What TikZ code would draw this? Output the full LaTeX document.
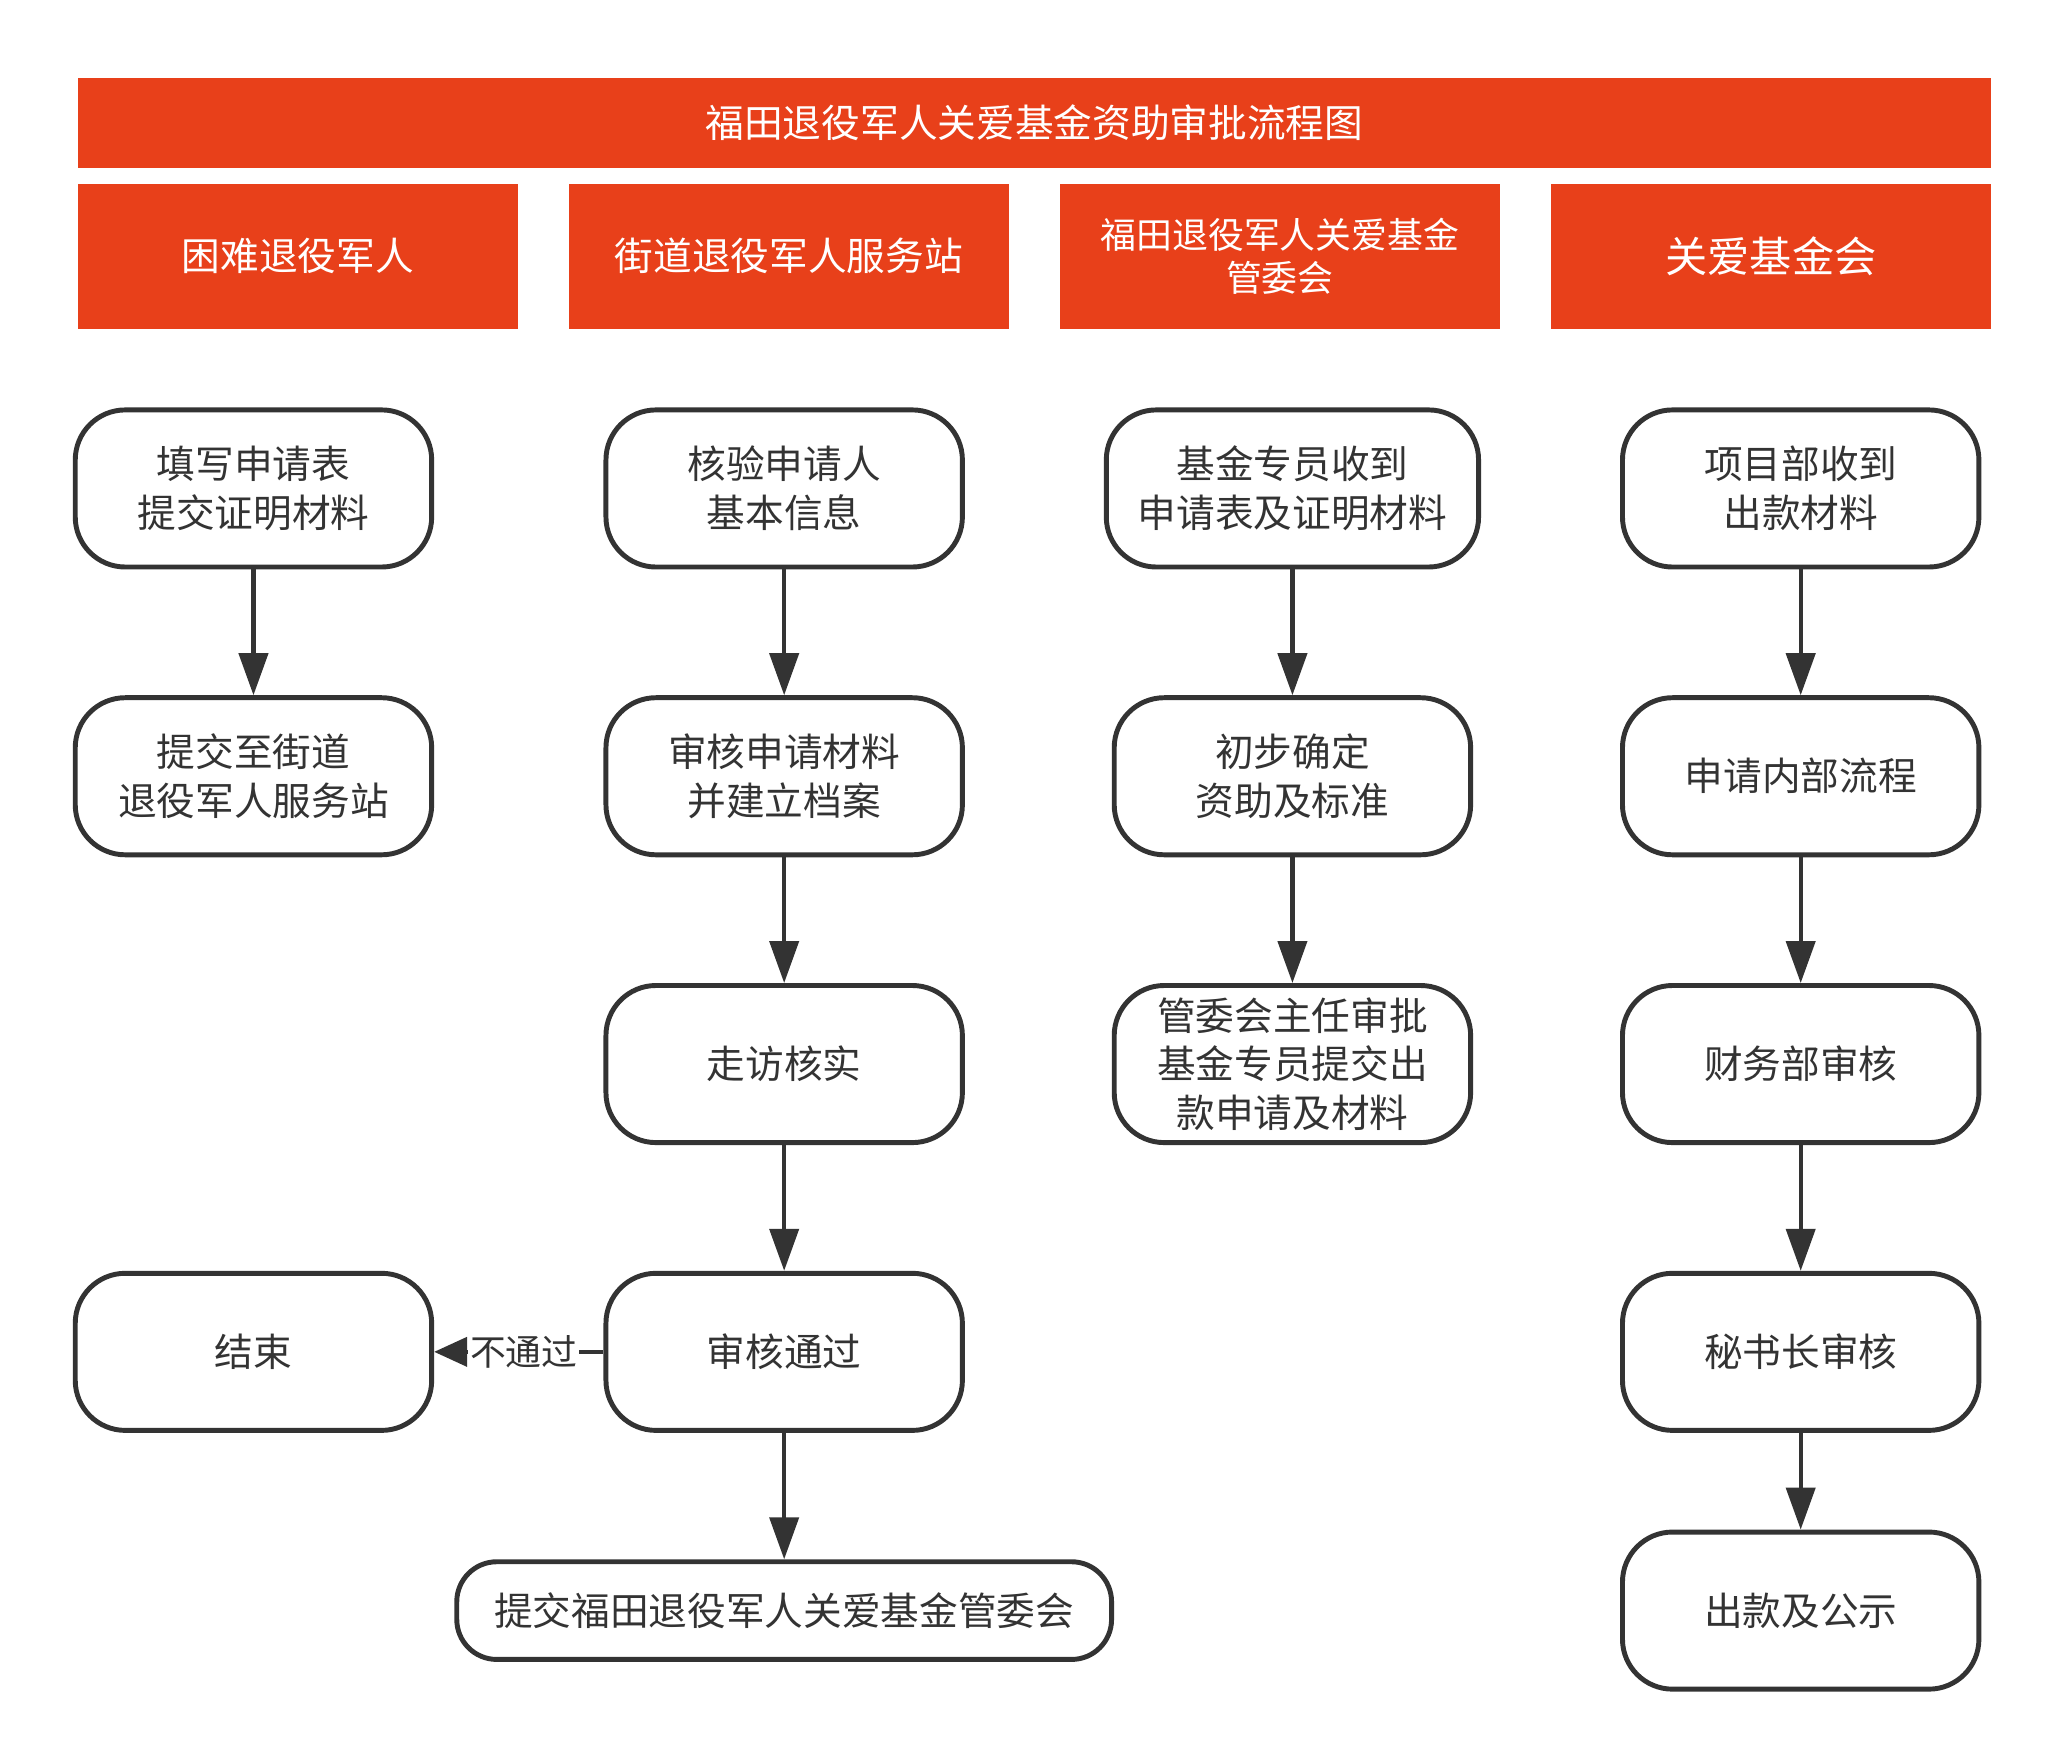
\documentclass[tikz,border=0pt]{standalone}
\usepackage{fontspec}
\setmainfont{Noto Sans CJK SC}
\usetikzlibrary{arrows.meta}
\newcommand{\pxu}{0.0132cm}
\definecolor{barred}{HTML}{E8401A}
\definecolor{darkline}{HTML}{333333}
\begin{document}
\begin{tikzpicture}[x=0.0132cm, y=-0.0132cm,
    lane/.style={fill=barred, text=white, inner sep=0pt, align=center,
        minimum width=333*\pxu, minimum height=110*\pxu,
        font=\fontsize{11}{14}\selectfont},
    stepbox/.style={draw=darkline, line width=1.4pt, rounded corners=0.5cm,
        fill=white, text=darkline, align=center, inner sep=2pt,
        minimum width=270*\pxu, minimum height=119*\pxu,
        font=\fontsize{11}{13.9}\selectfont},
    flow/.style={draw=darkline, line width=1.2pt,
        -{Triangle[length=0.42cm,width=0.29cm]}}]
        % Fix the page size
        \useasboundingbox (0,0) rectangle (1568,1336);

        % Title bar
        \node[lane, minimum width=1449*\pxu, minimum height=68*\pxu] (title) at (783.5,93)
            {福田退役军人关爱基金资助审批流程图};

        % Lane headers
        \node[lane] (lane1) at (225.5,194) {困难退役军人};
        \node[lane] (lane2) at (597.5,194) {街道退役军人服务站};
        \node[lane, font=\fontsize{10.2}{12.4}\selectfont] (lane3) at (969.5,194)
            {福田退役军人关爱基金\\管委会};
        \node[lane, font=\fontsize{12}{14}\selectfont] (lane4) at (1341.5,194) {关爱基金会};

        % First lane
        \node[stepbox] (fill) at (192,370) {填写申请表\\提交证明材料};
        \node[stepbox] (submit) at (192,588) {提交至街道\\退役军人服务站};
        \node[stepbox] (end) at (192,1024) {结束};

        % Second lane
        \node[stepbox] (verify) at (594,370) {核验申请人\\基本信息};
        \node[stepbox] (review) at (594,588) {审核申请材料\\并建立档案};
        \node[stepbox] (visit) at (594,806) {走访核实};
        \node[stepbox] (pass) at (594,1024) {审核通过};
        \node[stepbox, minimum width=496*\pxu, minimum height=74*\pxu,
            rounded corners=0.4cm] (hand) at (594,1220) {提交福田退役军人关爱基金管委会};

        % Third lane
        \node[stepbox, minimum width=282*\pxu] (recv) at (979,370) {基金专员收到\\申请表及证明材料};
        \node[stepbox] (setrate) at (979,588) {初步确定\\资助及标准};
        \node[stepbox, inner sep=0pt] (approve) at (979,806) {管委会主任审批\\基金专员提交出\\款申请及材料};

        % Fourth lane
        \node[stepbox] (project) at (1364,370) {项目部收到\\出款材料};
        \node[stepbox] (inner) at (1364,588) {申请内部流程};
        \node[stepbox] (finance) at (1364,806) {财务部审核};
        \node[stepbox] (secretary) at (1364,1024) {秘书长审核};
        \node[stepbox] (payout) at (1364,1220) {出款及公示};

        % Arrows
        \draw[flow] (fill) -- (submit);
        \draw[flow] (verify) -- (review);
        \draw[flow] (review) -- (visit);
        \draw[flow] (visit) -- (pass);
        \draw[flow] (pass) -- (hand);
        \draw[flow, -{Triangle[length=0.33cm,width=0.29cm]}] (pass) --
            node[pos=0.47, fill=white, text=darkline, inner sep=0.5pt,
            font=\fontsize{10.2}{12}\selectfont] {不通过} (end);
        \draw[flow] (recv) -- (setrate);
        \draw[flow] (setrate) -- (approve);
        \draw[flow] (project) -- (inner);
        \draw[flow] (inner) -- (finance);
        \draw[flow] (finance) -- (secretary);
        \draw[flow] (secretary) -- (payout);
\end{tikzpicture}
\end{document}
